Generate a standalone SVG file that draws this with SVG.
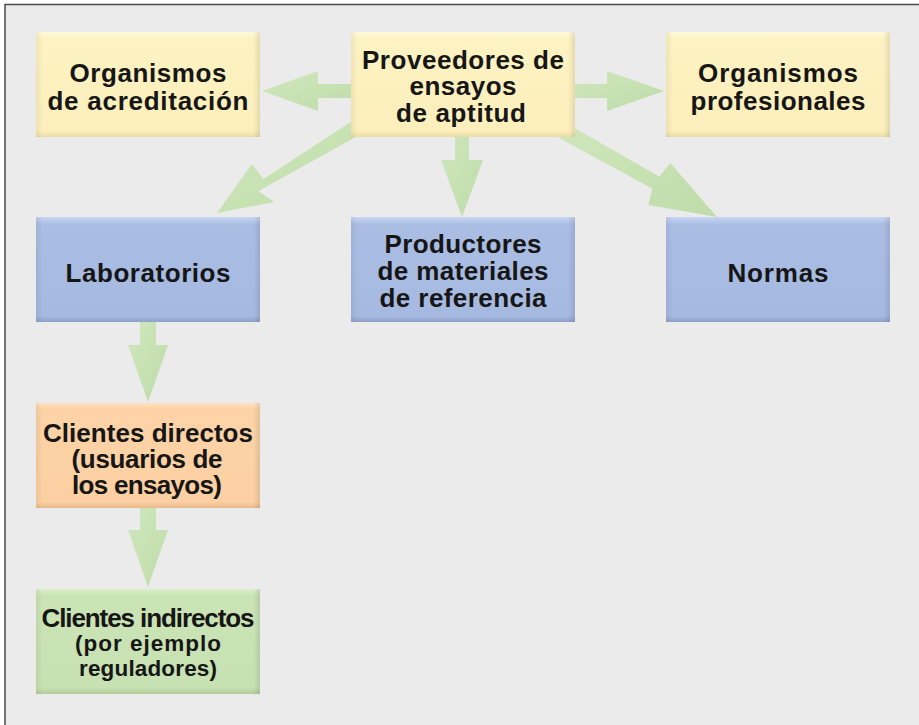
<svg xmlns="http://www.w3.org/2000/svg" width="919" height="725" viewBox="0 0 919 725">
<defs>
<style>
.t{font-family:"Liberation Sans",Arial,Helvetica,sans-serif;font-weight:bold;font-size:26px;fill:#161616;text-anchor:middle}
.s{font-size:22.5px}
.arr{fill:url(#ga)}
</style>
<linearGradient id="gy" x1="0" y1="0" x2="0" y2="1">
<stop offset="0" stop-color="#fff9dc"/><stop offset="0.06" stop-color="#fdf2c2"/><stop offset="0.94" stop-color="#fcefbc"/><stop offset="1" stop-color="#e9dca6"/>
</linearGradient>
<linearGradient id="gb" x1="0" y1="0" x2="0" y2="1">
<stop offset="0" stop-color="#c9d6f2"/><stop offset="0.07" stop-color="#aabde3"/><stop offset="0.94" stop-color="#a6b9e0"/><stop offset="1" stop-color="#8ea2c8"/>
</linearGradient>
<linearGradient id="go" x1="0" y1="0" x2="0" y2="1">
<stop offset="0" stop-color="#ffe2c2"/><stop offset="0.06" stop-color="#fdd3a7"/><stop offset="0.94" stop-color="#fcd0a2"/><stop offset="1" stop-color="#e6bb8c"/>
</linearGradient>
<linearGradient id="gg" x1="0" y1="0" x2="0" y2="1">
<stop offset="0" stop-color="#dcefcc"/><stop offset="0.06" stop-color="#cbe4b6"/><stop offset="0.94" stop-color="#c8e1b2"/><stop offset="1" stop-color="#b1cc9a"/>
</linearGradient>
<linearGradient id="gs" x1="0" y1="0" x2="1" y2="0">
<stop offset="0" stop-color="#000" stop-opacity="0.06"/><stop offset="0.03" stop-color="#000" stop-opacity="0"/><stop offset="0.97" stop-color="#000" stop-opacity="0"/><stop offset="1" stop-color="#000" stop-opacity="0.1"/>
</linearGradient>
<linearGradient id="ga" x1="0" y1="0" x2="1" y2="1">
<stop offset="0" stop-color="#cfe7bd"/><stop offset="1" stop-color="#bfdca9"/>
</linearGradient>
</defs>
<rect x="0" y="0" width="919" height="725" fill="#ffffff"/>
<rect x="5" y="4.5" width="930" height="740" fill="#ebebeb" stroke="#4a4a4a" stroke-width="1.5"/>

<g id="connectors">
<polygon class="arr" points="362,84 318,84 318,71 262,91 318,111 318,98 362,98"/>
<polygon class="arr" points="566,84 607,84 607,71 664,91 607,111 607,98 566,98"/>
<polygon class="arr" points="455,130 455,160 441,160 462,217 483,160 469,160 469,130"/>
<polygon class="arr" points="353.6,120 263.5,178.9 251.7,164.2 217,213 274.2,202.1 258.5,191 370.2,129"/>
<polygon class="arr" points="558,118.5 659.2,176.5 670.3,162.9 717,217 648.5,205 652.2,188.6 550,133"/>
<polygon class="arr" points="140,318 140,345 128,345 148,402 168,345 156,345 156,318"/>
<polygon class="arr" points="140,505 140,530 128,530 148,587 168,530 156,530 156,505"/>
</g>

<g id="n-acreditacion">
<rect x="36" y="32" width="224" height="105" fill="url(#gy)"/><rect x="36" y="32" width="224" height="105" fill="url(#gs)"/>
<text class="t" x="148" y="82" textLength="157" lengthAdjust="spacing">Organismos</text>
<text class="t" x="148" y="110" textLength="201" lengthAdjust="spacing">de acreditación</text>
</g>
<g id="n-proveedores">
<rect x="351" y="32" width="224" height="105" fill="url(#gy)"/><rect x="351" y="32" width="224" height="105" fill="url(#gs)"/>
<text class="t" x="463" y="69" textLength="202" lengthAdjust="spacing">Proveedores de</text>
<text class="t" x="463" y="95" textLength="107" lengthAdjust="spacing">ensayos</text>
<text class="t" x="461" y="121.5" textLength="130" lengthAdjust="spacing">de aptitud</text>
</g>
<g id="n-profesionales">
<rect x="666" y="32" width="224" height="105" fill="url(#gy)"/><rect x="666" y="32" width="224" height="105" fill="url(#gs)"/>
<text class="t" x="778" y="82" textLength="160" lengthAdjust="spacing">Organismos</text>
<text class="t" x="778" y="110" textLength="175" lengthAdjust="spacing">profesionales</text>
</g>
<g id="n-laboratorios">
<rect x="36" y="217" width="224" height="105" fill="url(#gb)"/><rect x="36" y="217" width="224" height="105" fill="url(#gs)"/>
<text class="t" x="148" y="281.5" textLength="165" lengthAdjust="spacing">Laboratorios</text>
</g>
<g id="n-productores">
<rect x="351" y="217" width="224" height="105" fill="url(#gb)"/><rect x="351" y="217" width="224" height="105" fill="url(#gs)"/>
<text class="t" x="463" y="253" textLength="157" lengthAdjust="spacing">Productores</text>
<text class="t" x="463" y="279.5" textLength="171" lengthAdjust="spacing">de materiales</text>
<text class="t" x="463" y="306.5" textLength="167" lengthAdjust="spacing">de referencia</text>
</g>
<g id="n-normas">
<rect x="666" y="217" width="224" height="105" fill="url(#gb)"/><rect x="666" y="217" width="224" height="105" fill="url(#gs)"/>
<text class="t" x="778" y="281.5" textLength="101" lengthAdjust="spacing">Normas</text>
</g>
<g id="n-directos">
<rect x="36" y="403" width="224" height="105" fill="url(#go)"/><rect x="36" y="403" width="224" height="105" fill="url(#gs)"/>
<text class="t" x="148" y="441.5" textLength="210" lengthAdjust="spacing">Clientes directos</text>
<text class="t" x="147" y="467.5" textLength="151" lengthAdjust="spacing">(usuarios de</text>
<text class="t" x="147" y="493.5" textLength="150" lengthAdjust="spacing">los ensayos)</text>
</g>
<g id="n-indirectos">
<rect x="36" y="589" width="224" height="105" fill="url(#gg)"/><rect x="36" y="589" width="224" height="105" fill="url(#gs)"/>
<text class="t" x="148" y="626.5" textLength="213" lengthAdjust="spacing">Clientes indirectos</text>
<text class="t s" x="148" y="651" textLength="146" lengthAdjust="spacing">(por ejemplo</text>
<text class="t s" x="148" y="675.5" textLength="138" lengthAdjust="spacing">reguladores)</text>
</g>
</svg>
